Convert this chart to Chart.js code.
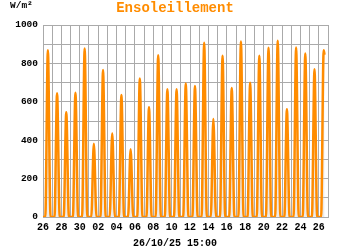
<!DOCTYPE html>
<html>
<head>
<meta charset="utf-8">
<script src="https://cdn.jsdelivr.net/npm/chart.js@4/dist/chart.umd.min.js"></script>
<style>
  body { margin: 0; background: #fff; }
  canvas { display: block; }
</style>
</head>
<body>
<canvas id="sunChart" width="350" height="250"></canvas>
<script>
// valeurs : pic journalier (W/m²) du 26/09 au 26/10
const days = ['26/09','27/09','28/09','29/09','30/09','01/10','02/10','03/10','04/10','05/10',
  '06/10','07/10','08/10','09/10','10/10','11/10','12/10','13/10','14/10','15/10','16/10',
  '17/10','18/10','19/10','20/10','21/10','22/10','23/10','24/10','25/10','26/10'];
const peaks = [869, 644, 545, 647, 878, 381, 765, 436, 635, 353,
  722, 571, 843, 666, 665, 695, 682, 907, 511, 840, 672,
  914, 699, 840, 881, 918, 561, 883, 852, 770, 869];
// heures (fraction de jour) : lever, pic, coucher
const sunrise = 0.25, noon = 0.53, sunset = 0.82;
// dernier relevé 26/10/25 15:00
const lastTime = 30.625, lastValue = 845;
const xLabels = ['26','28','30','02','04','06','08','10','12','14','16','18','20','22','24','26'];
const yLabels = ['0','200','400','600','800','1000'];

// construction des points
const points = [{ x: 0, y: 0 }];
peaks.forEach((p, d) => {
  points.push({ x: d + sunrise, y: 0 });
  points.push({ x: d + noon, y: p });
  if (d < peaks.length - 1) {
    points.push({ x: d + sunset, y: 0 });
  }
});
points.push({ x: lastTime, y: lastValue });

const font = 'Liberation Mono';

// textes autour du graphique
const textPlugin = {
  id: 'texts',
  afterDraw(chart) {
    const ctx = chart.ctx;
    ctx.save();
    ctx.textBaseline = 'middle';
    ctx.textAlign = 'center';
    ctx.fillStyle = '#ff8c00';
    ctx.font = 'bold 14px "' + font + '"';
    ctx.fillText('Ensoleillement', 175, 8);
    ctx.fillStyle = '#000';
    ctx.font = 'bold 10px "' + font + '"';
    ctx.fillText('26/10/25 15:00', 175, 243);
    ctx.textAlign = 'left';
    ctx.font = 'bold 9.5px "' + font + '"';
    ctx.fillText('W/m²', 10, 6);
    ctx.restore();
  }
};

new Chart(document.getElementById('sunChart'), {
  type: 'line',
  data: {
    datasets: [{
      data: points,
      borderColor: '#ff8c00',
      borderWidth: 2.5,
      backgroundColor: 'rgba(210, 205, 200, 0.4)',
      fill: 'origin',
      pointRadius: 0,
      cubicInterpolationMode: 'monotone'
    }]
  },
  options: {
    responsive: false,
    animation: false,
    layout: { padding: { left: 0, right: 22, top: 25, bottom: 0 } },
    plugins: { legend: { display: false }, tooltip: { enabled: false } },
    scales: {
      x: {
        type: 'linear',
        min: 0,
        max: 31,
        afterFit: s => { s.height = 33; },
        border: { color: '#aaa' },
        grid: { color: '#aaa', drawTicks: false },
        ticks: {
          stepSize: 1,
          autoSkip: false,
          maxRotation: 0,
          padding: 4,
          color: '#000',
          font: { family: font, size: 10, weight: 'bold' },
          callback: v => (v % 2 === 0 && v / 2 < xLabels.length) ? xLabels[v / 2] : ''
        }
      },
      y: {
        min: 0,
        max: 1000,
        afterFit: s => { s.width = 43; },
        border: { color: '#aaa' },
        grid: { color: '#aaa', drawTicks: false },
        ticks: {
          stepSize: 100,
          padding: 5,
          color: '#000',
          font: { family: font, size: 9.5, weight: 'bold' },
          callback: v => v % 200 === 0 ? yLabels[v / 200] : ''
        }
      }
    }
  },
  plugins: [textPlugin]
});
</script>
</body>
</html>
